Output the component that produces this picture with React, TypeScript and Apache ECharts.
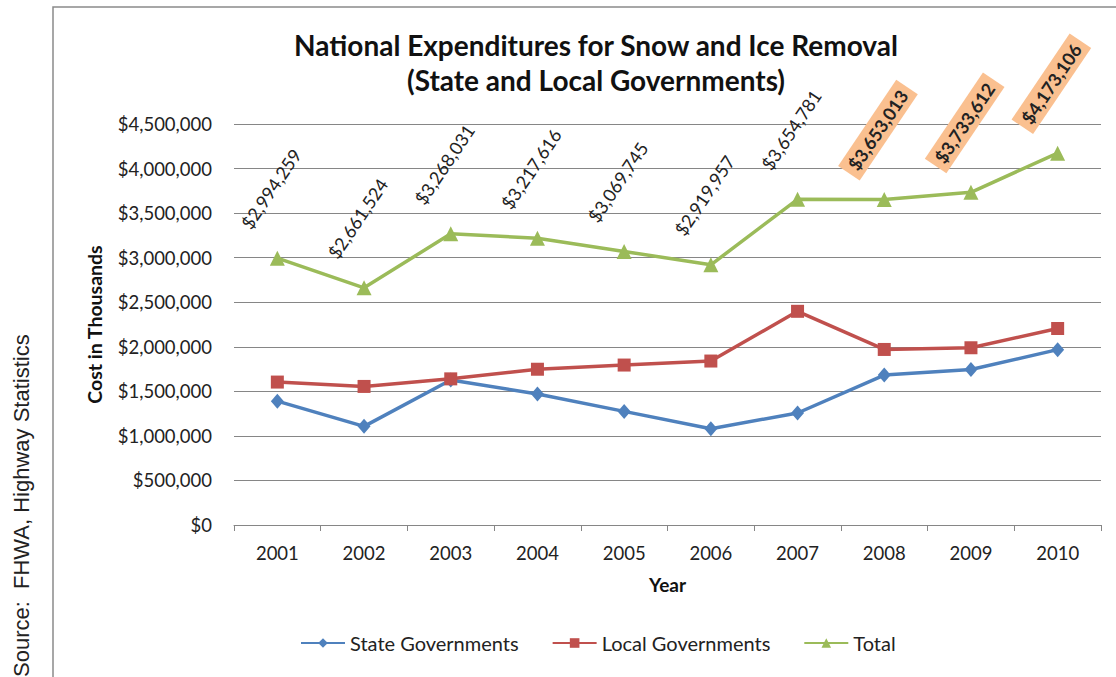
import React, { useEffect, useRef } from 'react';
import * as echarts from 'echarts';

const years = ['2001', '2002', '2003', '2004', '2005', '2006', '2007', '2008', '2009', '2010'];
const stateGov = [1390000, 1107000, 1628000, 1470000, 1275000, 1080000, 1257000, 1683000, 1745000, 1968000];
const localGov = [1604000, 1555000, 1640000, 1748000, 1795000, 1840000, 2398000, 1970000, 1989000, 2205000];
const total = [2994259, 2661524, 3268031, 3217616, 3069745, 2919957, 3654781, 3653013, 3733612, 4173106];
const highlightedYears = ['2008', '2009', '2010'];
const yMin = 0;
const yMax = 4500000;
const yStep = 500000;

const FONT = 'Lato';
const money = (v: number) => '$' + Math.round(v).toLocaleString('en-US');

export default function App() {
  const ref = useRef<HTMLDivElement>(null);
  useEffect(() => {
    if (!ref.current) return;
    const chart = echarts.init(ref.current, null, { renderer: 'svg' });
    const totalData = total.map((v, i) =>
      highlightedYears.includes(years[i])
        ? {
            value: v,
            label: {
              fontWeight: 'bold',
              backgroundColor: '#FAC090',
              padding: [4, 6],
            },
          }
        : v
    );
    chart.setOption({
      animation: false,
      textStyle: { fontFamily: FONT },
      title: {
        text: 'National Expenditures for Snow and Ice Removal\n(State and Local Governments)',
        left: 591,
        top: 22,
        textAlign: 'center',
        textStyle: {
          fontFamily: FONT,
          fontWeight: 'bold',
          fontSize: 28,
          lineHeight: 35,
          color: '#111',
        },
      },
      graphic: [
        {
          type: 'rect',
          shape: { x: 53, y: 7, width: 1100, height: 700 },
          style: { fill: 'none', stroke: '#8a8a8a', lineWidth: 1.5 },
          silent: true,
        },
        {
          type: 'text',
          x: 21,
          y: 677,
          rotation: Math.PI / 2,
          style: {
            text: 'Source:  FHWA, Highway Statistics',
            fontFamily: 'Liberation Sans',
            fontSize: 22,
            fill: '#222',
            align: 'left',
            verticalAlign: 'middle',
          },
        },
      ],
      legend: {
        top: 628,
        left: 295,
        itemWidth: 44,
        itemHeight: 12,
        itemGap: 33,
        textStyle: { fontFamily: FONT, fontSize: 20, color: '#222' },
        data: ['State Governments', 'Local Governments', 'Total'],
      },
      grid: { left: 234, right: 15, top: 124, bottom: 152 },
      xAxis: {
        type: 'category',
        data: years,
        boundaryGap: true,
        name: 'Year',
        nameLocation: 'middle',
        nameGap: 50,
        nameTextStyle: { fontFamily: FONT, fontWeight: 'bold', fontSize: 19, color: '#111' },
        axisLine: { lineStyle: { color: '#868686', width: 1 } },
        axisTick: { show: true, length: 6, lineStyle: { color: '#868686' } },
        axisLabel: { fontFamily: FONT, fontSize: 18.5, color: '#222', margin: 18 },
      },
      yAxis: {
        type: 'value',
        min: yMin,
        max: yMax,
        interval: yStep,
        name: 'Cost in Thousands',
        nameLocation: 'middle',
        nameGap: 130,
        nameTextStyle: { fontFamily: FONT, fontWeight: 'bold', fontSize: 19.5, color: '#111' },
        axisLine: { show: false },
        axisTick: { show: false },
        splitLine: { lineStyle: { color: '#868686', width: 1 } },
        axisLabel: { fontFamily: FONT, fontSize: 18.5, color: '#222', margin: 22, formatter: money },
      },
      series: [
        {
          name: 'State Governments',
          type: 'line',
          data: stateGov,
          symbol: 'diamond',
          symbolSize: [13, 15],
          lineStyle: { width: 3.5, color: '#4F81BD' },
          itemStyle: { color: '#4F81BD' },
        },
        {
          name: 'Local Governments',
          type: 'line',
          data: localGov,
          symbol: 'rect',
          symbolSize: 13,
          lineStyle: { width: 3.5, color: '#C0504D' },
          itemStyle: { color: '#C0504D' },
        },
        {
          name: 'Total',
          type: 'line',
          data: totalData,
          symbol: 'triangle',
          symbolSize: 15,
          lineStyle: { width: 3.5, color: '#9BBB59' },
          itemStyle: { color: '#9BBB59' },
          label: {
            show: true,
            position: 'inside',
            rotate: 56,
            offset: [54, -44],
            formatter: (p: any) => money(p.value),
            fontFamily: FONT,
            fontSize: 18,
            color: '#222',
          },
        },
      ],
    });
    return () => chart.dispose();
  }, []);
  return (
    <div
      ref={ref}
      style={{ position: 'fixed', left: 0, top: 0, width: 1116, height: 677, background: '#fff' }}
    />
  );
}
